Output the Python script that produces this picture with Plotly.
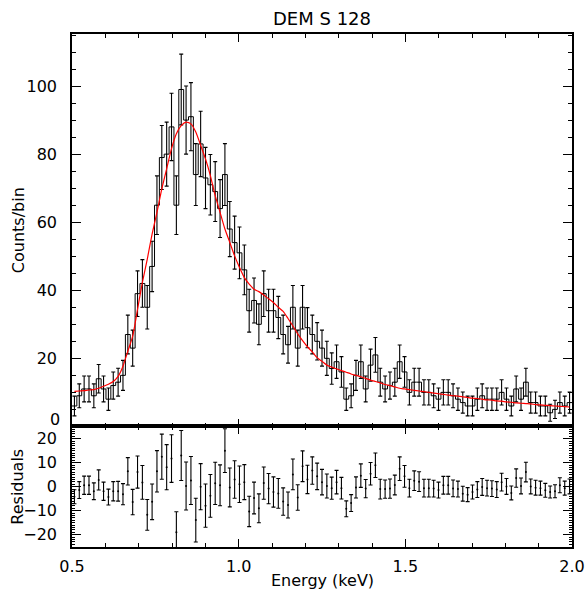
import numpy as np
import plotly.graph_objects as go

# ---- data ----
e_min, e_max, n_bins = 0.5, 2.0, 103
bin_width = (e_max - e_min) / n_bins
bin_edges = e_min + bin_width * np.arange(n_bins + 1)
bin_centers = bin_edges[:-1] + bin_width / 2

counts = [6, 9, 11, 11, 9, 14, 11, 8, 12, 13,
          15, 27, 23, 39, 42, 35, 47, 65, 79, 80,
          88, 65, 99, 90, 91, 74, 83, 73, 71, 69,
          64, 74, 58, 54, 51, 46, 34, 37, 30, 39,
          34, 34, 32, 27, 24, 35, 23, 35, 29, 27,
          25, 23, 20, 17, 19, 16, 8, 9, 15, 19,
          11, 18, 21, 13, 11, 12, 13, 19, 16, 10,
          13, 13, 10, 10, 9, 8, 10, 10, 9, 8,
          7, 6, 6, 8, 9, 8, 8, 8, 10, 8,
          6, 11, 8, 13, 7, 7, 6, 6, 4, 5,
          7, 6, 7]

count_err = [2.9, 3.5, 3.8, 3.8, 3.5, 4.2, 3.8, 3.3, 4.0, 4.1,
             4.4, 5.7, 5.3, 6.7, 7.0, 6.4, 7.4, 8.6, 9.4, 9.4,
             9.9, 8.6, 10.4, 10.0, 10.0, 9.1, 9.6, 9.0, 8.9, 8.8,
             8.5, 9.1, 8.1, 7.8, 7.6, 7.3, 6.3, 6.6, 6.0, 6.7,
             6.3, 6.3, 6.2, 5.7, 5.4, 6.4, 5.3, 6.4, 5.9, 5.7,
             5.5, 5.3, 5.0, 4.6, 4.9, 4.5, 3.3, 3.5, 4.4, 4.9,
             3.8, 4.7, 5.1, 4.1, 3.8, 4.0, 4.1, 4.9, 4.5, 3.7,
             4.1, 4.1, 3.7, 3.7, 3.5, 3.3, 3.7, 3.7, 3.5, 3.3,
             3.1, 2.9, 2.9, 3.3, 3.5, 3.3, 3.3, 3.3, 3.7, 3.3,
             2.9, 3.8, 3.3, 4.1, 3.1, 3.1, 2.9, 2.9, 2.5, 2.7,
             3.1, 2.9, 3.1]

model = [10.3, 10.4, 10.5, 10.7, 10.8, 11.2, 11.8, 12.4, 13.2, 14.7,
         17.7, 22.1, 26.5, 34.4, 42.3, 49.1, 56.5, 62.9, 69.8, 75.7,
         81.6, 86.0, 88.4, 89.4, 88.9, 86.5, 82.6, 78.6, 73.7, 67.8,
         62.9, 58.0, 54.1, 50.1, 46.7, 43.7, 41.8, 40.3, 39.6, 38.6,
         37.5, 36.4, 35.0, 33.8, 31.7, 29.5, 27.2, 25.2, 23.4, 21.9,
         20.2, 19.1, 18.0, 17.4, 16.9, 16.4, 15.9, 15.4, 15.0, 14.6,
         14.1, 13.6, 13.2, 12.8, 12.3, 12.0, 11.6, 11.2, 11.0, 10.8,
         10.6, 10.4, 10.2, 10.0, 9.8, 9.6, 9.4, 9.2, 9.0, 8.9,
         8.7, 8.5, 8.3, 8.2, 8.0, 7.8, 7.7, 7.5, 7.4, 7.2,
         7.1, 6.9, 6.8, 6.7, 6.6, 6.4, 6.3, 6.2, 6.1, 6.0,
         5.9, 5.8, 5.7]

residuals = [-4.2, -1.4, 0.6, 0.6, -1.9, 2.8, -1.9, -4.3, -1.9, -1.9,
             -3.1, 6.4, -6.4, 6.1, 1.8, -11.7, -6.3, 6.4, 12.5, 8.1,
             11.7, -19.0, 13.0, 0.3, 2.6, -13.9, 0.0, -7.9, -3.8, 1.4,
             0.6, 15.0, -0.3, 3.0, 1.0, 1.9, -10.3, -4.7, -9.0, 1.5,
             -0.8, -2.2, -2.8, -6.2, -7.6, 5.1, -4.5, 8.5, 3.0, 6.7,
             4.3, 1.9, 0.3, -0.6, 1.9, -0.6, -9.2, -6.8, -0.3, 4.6,
             -0.8, 5.4, 8.9, -1.0, -1.0, -0.8, 0.7, 7.5, 4.3, -0.6,
             2.5, 2.1, -0.6, -0.6, -0.8, -1.4, 0.6, 0.6, -0.7, -1.0,
             -2.9, -3.3, -2.2, -1.2, -0.1, -0.6, -0.8, -1.2, 1.9, 0.1,
             -2.6, 3.6, 0.3, 6.1, 0.1, -0.4, -0.6, -1.5, -2.2, -1.9,
             0.6, -0.6, 0.1]

title_text = "DEM S 128"
x_tickvals = [0.5, 1.0, 1.5, 2.0]
x_ticktext = ["0.5", "1.0", "1.5", "2.0"]
y_tickvals = [0, 20, 40, 60, 80, 100]
y_ticktext = ["", "20", "40", "60", "80", "100"]
r_tickvals = [-20, -10, 0, 10, 20]
r_ticktext = ["\u221220", "\u221210", "0", "10", "20"]

# ---- figure ----
FONT = "DejaVu Sans"
fig = go.Figure()

# histogram steps
fig.add_trace(go.Scatter(
    x=bin_edges, y=list(counts) + [counts[-1]],
    mode="lines", line=dict(color="black", width=1, shape="hv"),
    xaxis="x", yaxis="y", hoverinfo="skip", showlegend=False))

# count error bars
fig.add_trace(go.Scatter(
    x=bin_centers, y=counts, mode="markers",
    marker=dict(size=1, color="black"),
    error_y=dict(type="data", array=count_err, width=2, thickness=1.1, color="black"),
    xaxis="x", yaxis="y", showlegend=False))

# model
fig.add_trace(go.Scatter(
    x=bin_centers, y=model, mode="lines",
    line=dict(color="red", width=1.2, shape="spline", smoothing=0.6),
    xaxis="x", yaxis="y", showlegend=False))

# residuals
fig.add_trace(go.Scatter(
    x=bin_centers, y=residuals, mode="markers",
    marker=dict(size=2, color="black"),
    error_y=dict(type="data", array=count_err, width=2, thickness=1.1, color="black"),
    xaxis="x2", yaxis="y2", showlegend=False))

axis_common = dict(showline=True, linecolor="black", linewidth=1.5, mirror="allticks",
                   ticks="inside", tickcolor="black", showgrid=False, zeroline=False,
                   automargin=False,
                   tickfont=dict(family=FONT, size=16, color="black"))

bottom_frac = 120.6 / 513.0

fig.update_layout(
    width=587, height=597,
    margin=dict(l=72, r=15, t=34, b=50, autoexpand=False),
    paper_bgcolor="white", plot_bgcolor="white",
    xaxis=dict(domain=[0, 1], range=[e_min, e_max], anchor="y",
               tickvals=x_tickvals, ticklen=8, showticklabels=False,
               minor=dict(dtick=0.1, tick0=0.5, ticklen=4, ticks="inside", tickcolor="black"),
               **axis_common),
    yaxis=dict(domain=[bottom_frac, 1], range=[0, 115.3], anchor="x",
               tickvals=y_tickvals, ticktext=y_ticktext, ticklen=9, ticklabelstandoff=10,
               minor=dict(dtick=5, ticklen=4.5, ticks="inside", tickcolor="black"),
               **axis_common),
    xaxis2=dict(domain=[0, 1], range=[e_min, e_max], anchor="y2",
                tickvals=x_tickvals, ticktext=x_ticktext, ticklen=8, ticklabelstandoff=4,
                minor=dict(dtick=0.1, tick0=0.5, ticklen=4, ticks="inside", tickcolor="black"),
                **axis_common),
    yaxis2=dict(domain=[0, bottom_frac], range=[-25.1, 25.1], anchor="x2",
                tickvals=r_tickvals, ticktext=r_ticktext, ticklen=9, ticklabelstandoff=10,
                minor=dict(dtick=1, tick0=0, ticklen=3.5, ticks="inside", tickcolor="black"),
                **axis_common),
    annotations=[
        dict(text=title_text, xref="paper", yref="paper", x=0.5, y=1, yshift=16,
             showarrow=False, xanchor="center", yanchor="middle",
             font=dict(family=FONT, size=18, color="black")),
        dict(text="0", xref="paper", yref="y", x=0, y=0, xshift=-10, yshift=7,
             showarrow=False, xanchor="right", yanchor="middle",
             font=dict(family=FONT, size=16, color="black")),
        dict(text="Counts/bin", xref="paper", yref="paper", x=-0.108, y=(bottom_frac + 1) / 2,
             textangle=-90, showarrow=False, xanchor="center", yanchor="middle",
             font=dict(family=FONT, size=16, color="black")),
        dict(text="Residuals", xref="paper", yref="paper", x=-0.108, y=bottom_frac / 2,
             textangle=-90, showarrow=False, xanchor="center", yanchor="middle",
             font=dict(family=FONT, size=16, color="black")),
        dict(text="Energy (keV)", xref="paper", yref="paper", x=0.5, y=0, yshift=-33,
             showarrow=False, xanchor="center", yanchor="middle",
             font=dict(family=FONT, size=16, color="black")),
    ],
)

fig.write_html("out.html")
